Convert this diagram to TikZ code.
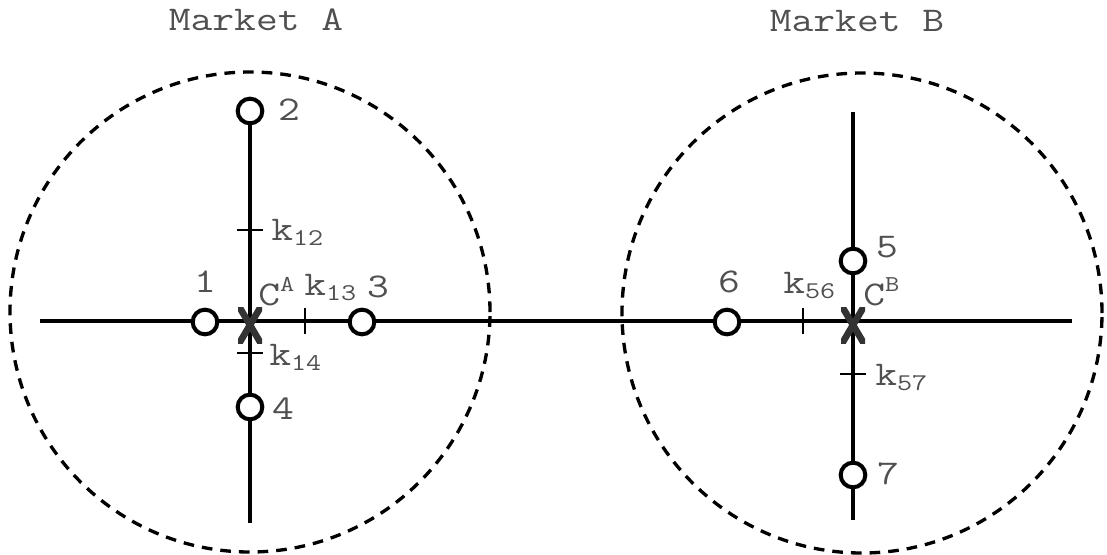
\documentclass[tikz,border=0pt]{standalone}
\usepackage{fontspec}
\setmonofont{Latin Modern Mono}[FakeStretch=1.22]
\newcommand{\mysub}[1]{\raisebox{-4pt}{\fontsize{18pt}{18pt}\selectfont #1}}
\newcommand{\mysup}[1]{\raisebox{10pt}{\fontsize{17pt}{17pt}\selectfont #1}}
\definecolor{txtgray}{HTML}{505050}
\definecolor{xgray}{HTML}{333333}
\begin{document}
\begin{tikzpicture}[x=0.75pt,y=-0.75pt,
  mline/.style={line width=3pt,black},
  market/.style={draw,line width=2.5pt,dash pattern=on 8pt off 6pt},
  stopnode/.style={circle,draw,line width=3pt,fill=white,minimum size=18.5pt,inner sep=0pt},
  lbl/.style={font=\ttfamily\fontsize{26pt}{26pt}\selectfont,text=txtgray,inner sep=0pt},
  tickmark/.style={line width=1.4pt,black},
  xmark/.style={line width=5pt,xgray}]
\useasboundingbox (0,0) rectangle (1107,554);
% market boundaries
\node[market,circle,minimum size=360pt,inner sep=0pt] (MA) at (250,312) {};
\node[market,circle,minimum size=360pt,inner sep=0pt] (MB) at (862,313) {};
% end points
\coordinate (L) at (40,321);
\coordinate (R) at (1072,321);
\coordinate (AT) at (250,111);
\coordinate (AB) at (250,523);
\coordinate (BT) at (853,112);
\coordinate (BB) at (853,520);
% lines
\draw[mline] (L) -- (R);
\draw[mline] (AT) -- (AB);
\draw[mline] (BT) -- (BB);
% nodes
\node[stopnode] (n2) at (250,111) {};
\node[stopnode] (n1) at (205,322) {};
\node[stopnode] (n3) at (362,322) {};
\node[stopnode] (n4) at (250,407) {};
\node[stopnode] (n5) at (853,261) {};
\node[stopnode] (n6) at (727,322) {};
\node[stopnode] (n7) at (853,475) {};
% ticks
\coordinate (t12) at (250,230);
\coordinate (t13) at (305,321);
\coordinate (t14) at (250,353);
\coordinate (t56) at (803,321);
\coordinate (t57) at (853,374);
\draw[tickmark] ([xshift=-9.75pt]t12) -- ([xshift=9.75pt]t12);
\draw[tickmark] ([yshift=10pt]t13) -- ([yshift=-10pt]t13);
\draw[tickmark] ([xshift=-9.75pt]t14) -- ([xshift=9.75pt]t14);
\draw[tickmark] ([yshift=10pt]t56) -- ([yshift=-10pt]t56);
\draw[tickmark] ([xshift=-9.75pt]t57) -- ([xshift=9.75pt]t57);
% centre marks
\coordinate (CA) at (250,325);
\coordinate (CB) at (853,325);
\begin{scope}
\clip ([shift={(-12,-18)}]CA) rectangle ([shift={(12,18)}]CA);
\draw[xmark] ([shift={(-13,-22)}]CA) -- ([shift={(13,22)}]CA);
\draw[xmark] ([shift={(13,-22)}]CA) -- ([shift={(-13,22)}]CA);
\end{scope}
\begin{scope}
\clip ([shift={(-12,-18)}]CB) rectangle ([shift={(12,18)}]CB);
\draw[xmark] ([shift={(-13,-22)}]CB) -- ([shift={(13,22)}]CB);
\draw[xmark] ([shift={(13,-22)}]CB) -- ([shift={(-13,22)}]CB);
\end{scope}
% titles
\node[lbl,anchor=base] (tA) at (256,30) {Market A};
\node[lbl,anchor=base] (tB) at (857,31) {Market B};
% node labels
\node[lbl,anchor=base] (l1) at (205,292) {1};
\node[lbl,anchor=base] (l2) at (289,120) {2};
\node[lbl,anchor=base] (l3) at (378,297) {3};
\node[lbl,anchor=base] (l4) at (283,419) {4};
\node[lbl,anchor=base] (l5) at (887,257) {5};
\node[lbl,anchor=base] (l6) at (729,292) {6};
\node[lbl,anchor=base] (l7) at (888,484) {7};
% parameter labels
\node[lbl,anchor=base west] (k12) at (271,240) {k\mysub{12}};
\node[lbl,anchor=base west] (k13) at (304,295) {k\mysub{13}};
\node[lbl,anchor=base west] (k14) at (269,365) {k\mysub{14}};
\node[lbl,anchor=base west] (k56) at (783,293) {k\mysub{56}};
\node[lbl,anchor=base west] (k57) at (875,385) {k\mysub{57}};
\node[lbl,anchor=base west] (cA) at (258,305) {C\mysup{A}};
\node[lbl,anchor=base west] (cB) at (863,305) {C\mysup{B}};
\end{tikzpicture}
\end{document}
